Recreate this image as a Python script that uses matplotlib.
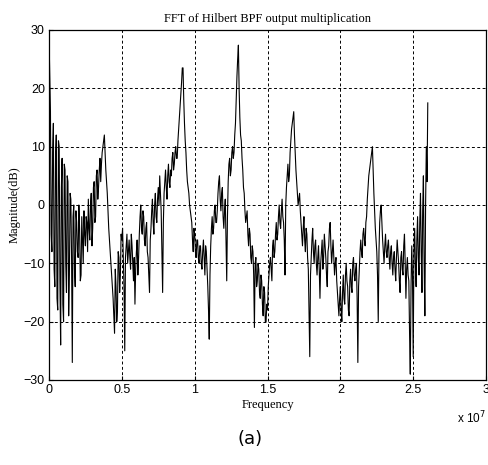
import numpy as np
import matplotlib
matplotlib.use("Agg")
import matplotlib.pyplot as plt
from matplotlib.ticker import FuncFormatter

TITLE = "FFT of Hilbert BPF output multiplication"
X_LABEL = "Frequency"
Y_LABEL = "Magnitude(dB)"
CAPTION = "(a)"

# magnitude in dB, every 0.005e7 Hz from 0 up to 2.6e7 Hz
mag_band_0 = [29, 22, 16, -5, -8, 9, 14, -11, -14, 8,
              12, -16, -18, 11, 10, -13, -24, 3, 8, -17,
              -20, 7, 6, -10, -15, 5, 4, -19, -12, 2,
              1, -9, -27, -2, 0, -11, -14, -1, -3, -8,
              -9, 0, -4, -13, -12, -2, -6, -10, -1, -5,
              -7, -2, -3, -8, 1, -4, -6, 0, 2, -7,
              -4, 3, 4, -3, -2, 5, 6, 1, 3, 6,
              8, 4, 7, 9, 10, 11, 12, 9, 6, 4,
              2, -1, -4, -6, -8, -10, -12, -14, -16, -19,
              -22, -11, -14, -20, -18, -8, -9, -15, -12, -5]
mag_band_1 = [-6, -4, -9, -14, -25, -9, -7, -5, -10, -8,
              -6, -9, -11, -5, -7, -10, -13, -9, -17, -11,
              -8, -6, -12, -9, -5, -2, 0, -4, -5, -1,
              -2, -6, -7, -4, -3, -8, -9, -12, -15, -6,
              -4, -1, 1, -3, -5, 0, 2, -2, -3, 1,
              3, 0, 5, 2, -1, -8, -15, -3, 2, 4,
              6, 3, 1, 5, 7, 4, 3, 6, 5, 8,
              9, 6, 7, 9, 10, 8, 8, 11, 13, 15,
              17, 19, 21, 23.5, 23.5, 18, 14, 11, 9, 6,
              4, 3, 2, 0, -1, -2, -3, -6, -8, -4]
mag_band_2 = [-5, -8, -9, -6, -6, -9, -10, -7, -7, -10,
              -11, -8, -6, -9, -12, -7, -8, -11, -14, -18,
              -23, -12, -7, -4, -2, -5, -4, -1, 0, -3,
              -3, -1, 2, 4, 5, 1, -1, 2, 3, -2,
              -4, -1, 1, -6, -13, -2, 4, 7, 8, 5,
              6, 9, 10, 8, 9, 12, 14, 18, 22, 25,
              27.4, 20, 15, 12, 11, 8, 6, 3, 2, -1,
              -3, -2, -1, -5, -7, -4, -5, -9, -10, -7,
              -8, -12, -21, -10, -9, -14, -13, -10, -11, -15,
              -16, -12, -13, -17, -19, -14, -15, -20, -20, -17]
mag_band_3 = [-18, -14, -12, -10, -9, -11, -13, -7, -6, -9,
              -8, -5, -3, -6, -5, -2, 0, -3, -4, -1,
              1, -2, -3, -6, -12, 0, 3, 5, 7, 4,
              5, 9, 11, 13, 14, 15, 16, 12, 9, 6,
              4, 2, 0, 1, 2, -1, -3, -5, -7, -4,
              -2, -6, -8, -4, -5, -9, -11, -18, -26, -12,
              -9, -6, -4, -8, -10, -7, -6, -10, -12, -9,
              -7, -11, -16, -10, -8, -6, -11, -9, -5, -7,
              -9, -12, -14, -8, -7, -4, -3, -7, -10, -8,
              -6, -9, -12, -10, -9, -13, -15, -17, -19, -16]
mag_band_4 = [-14, -18, -20, -15, -12, -16, -17, -12, -10, -13,
              -14, -18, -19, -13, -11, -14, -15, -10, -9, -12,
              -13, -11, -10, -16, -27, -14, -11, -8, -6, -8,
              -9, -5, -4, -6, -7, -3, -2, 1, 3, 5,
              6, 7, 8, 9, 10, 6, 2, -1, -4, -6,
              -8, -12, -20, -8, -3, -1, 0, -3, -6, -8,
              -10, -7, -5, -8, -9, -7, -6, -9, -11, -8,
              -7, -10, -12, -9, -8, -11, -13, -9, -6, -8,
              -10, -13, -15, -9, -8, -11, -12, -7, -5, -10,
              -16, -11, -9, -12, -13, -22, -29, -14, -7, -12,
              -26, -8, -4, -10, -14, -6, -2, -9, -12, -3,
              2, -8, -15, -1, 5, -10, -19, 0, 10, 4,
              17.5]

mag_db = np.array(mag_band_0 + mag_band_1 + mag_band_2 + mag_band_3 + mag_band_4)
freq_hz = np.linspace(0, 2.6e7, len(mag_db))

x_ticks = [0, 0.5e7, 1e7, 1.5e7, 2e7, 2.5e7, 3e7]
y_ticks = [-30, -20, -10, 0, 10, 20, 30]

serif = ["Liberation Serif", "DejaVu Serif"]
sans = ["Liberation Sans", "DejaVu Sans"]

fig = plt.figure(figsize=(4.88, 4.65), dpi=100)
ax = fig.add_axes([0.1004, 0.1828, 0.8956, 0.7527])

ax.plot(freq_hz, mag_db, color="black", linewidth=0.8)

ax.set_xlim(0, 3e7)
ax.set_ylim(-30, 30)
ax.set_xticks(x_ticks)
ax.set_yticks(y_ticks)
ax.xaxis.set_major_formatter(FuncFormatter(lambda v, p: f"{v / 1e7:g}"))
ax.grid(True, color="black", linestyle=(0, (3, 2.5)), linewidth=0.7)
ax.tick_params(direction="in", length=3, width=0.8, labelsize=9, pad=3)
for lab in ax.get_xticklabels() + ax.get_yticklabels():
    lab.set_family(sans)
for sp in ax.spines.values():
    sp.set_linewidth(0.9)
    sp.set_color("black")

ax.set_title(TITLE, fontsize=9, family=serif, pad=6)
ax.set_xlabel(X_LABEL, fontsize=9, family=serif, labelpad=2)
ax.set_ylabel(Y_LABEL, fontsize=9, family=serif, labelpad=2)
ax.text(1.0, -0.085, "x 10$^7$", transform=ax.transAxes, ha="right", va="top",
        fontsize=8.5, family=sans)

fig.text(0.512, 0.055, CAPTION, ha="center", va="center", fontsize=13,
         family=["DejaVu Sans"])

fig.savefig("out.png", dpi=100)
